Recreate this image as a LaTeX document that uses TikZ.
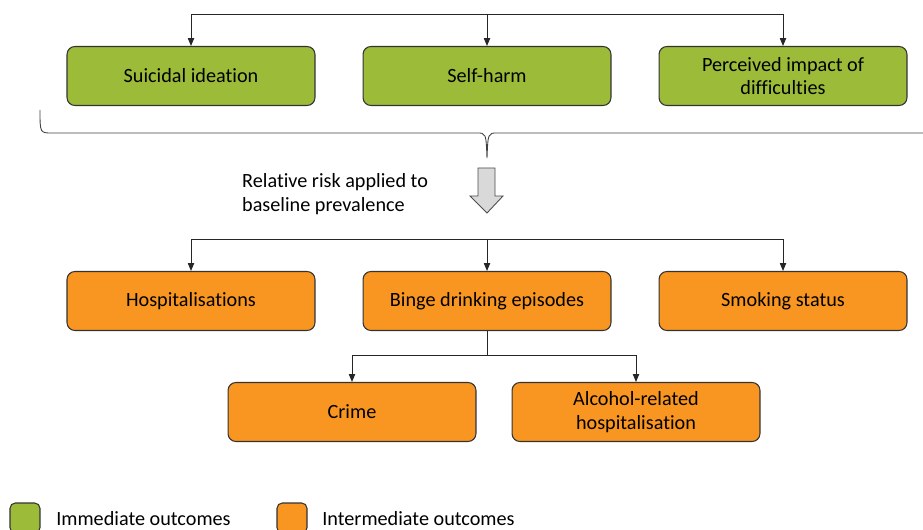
\documentclass[tikz,border=0pt]{standalone}
\usepackage{fontspec}
\setmainfont{Carlito}[Ligatures={NoCommon}]
\usetikzlibrary{arrows.meta}

\definecolor{immgreen}{RGB}{155,187,57}
\definecolor{intorange}{RGB}{248,150,33}

\begin{document}
\begin{tikzpicture}[x=0.02cm,y=-0.02cm]
  \tikzstyle{outcome}=[draw=black!80,line width=0.6pt,rounded corners=4.5pt,minimum width=4.96cm,minimum height=1.18cm,align=center,font=\fontsize{11.5}{13.5}\selectfont]
  \tikzstyle{imm}=[outcome,fill=immgreen]
  \tikzstyle{inter}=[outcome,fill=intorange]
  \tikzstyle{key}=[minimum width=0.6cm,minimum height=0.6cm,rounded corners=3pt]
  \tikzstyle{link}=[draw=black!85,line width=0.5pt,-{Triangle[length=4.5pt,width=3.6pt]}]
  \useasboundingbox (0,0) rectangle (923,530);

  % immediate outcomes
  \draw (191,76) node[imm] (SI) {Suicidal ideation};
  \draw (487,76) node[imm] (SH) {Self-harm};
  \draw (783,76) node[imm] (PI) {Perceived impact of\\difficulties};

  \coordinate (T) at (487,14);
  \draw[link] (T) -| (SI);
  \draw[link] (T) -- (SH);
  \draw[link] (T) -| (PI);

  % brace and block arrow
  \draw[draw=black!75,line width=0.5pt] (40,110) .. controls (40,133) .. (52,133) -- (477,133)
    .. controls (486,133) .. (487,158) .. controls (488,133) .. (497,133) -- (923,133);
  \draw[fill=gray!30,draw=black!70,line width=0.5pt] (478,168) -- (495,168) -- (495,196)
    -- (503,196) -- (487,213) -- (470,196) -- (478,196) -- cycle;
  \draw (236,194) node[anchor=west,align=left,font=\fontsize{11.5}{13.5}\selectfont] (RR)
    {Relative risk applied to\\baseline prevalence};

  % intermediate outcomes
  \draw (191,301) node[inter] (HO) {Hospitalisations};
  \draw (487,301) node[inter] (BD) {Binge drinking episodes};
  \draw (783,301) node[inter] (SM) {Smoking status};
  \draw (352,412) node[inter] (CR) {Crime};
  \draw (636,412) node[inter] (AH) {Alcohol-related\\hospitalisation};

  \coordinate (R) at (487,239);
  \draw[link] (R) -| (HO);
  \draw[link] (R) -- (BD);
  \draw[link] (R) -| (SM);

  \coordinate (B) at (487,355);
  \draw[draw=black!85,line width=0.5pt] (BD) -- (B);
  \draw[link] (B) -| (CR);
  \draw[link] (B) -| (AH);

  % legend
  \draw (25,518) node[imm,key] (KI) {};
  \draw (56,525) node[anchor=base west,inner sep=0pt,font=\fontsize{11.5}{13.5}\selectfont] (KIt) {Immediate outcomes};
  \draw (292,518) node[inter,key] (KM) {};
  \draw (322,525) node[anchor=base west,inner sep=0pt,font=\fontsize{11.5}{13.5}\selectfont] (KMt) {Intermediate outcomes};
\end{tikzpicture}
\end{document}
